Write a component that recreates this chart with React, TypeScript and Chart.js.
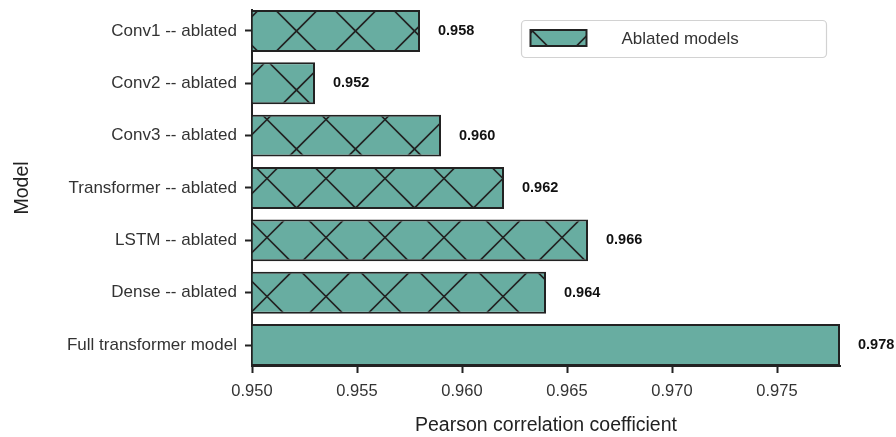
import React, { useEffect, useRef } from "react";
import { Chart, registerables } from "chart.js";

Chart.register(...registerables);

const categories = [
  "Conv1 -- ablated",
  "Conv2 -- ablated",
  "Conv3 -- ablated",
  "Transformer -- ablated",
  "LSTM -- ablated",
  "Dense -- ablated",
  "Full transformer model",
];
const pearsonValues = [0.958, 0.953, 0.959, 0.962, 0.966, 0.964, 0.978];
const valueLabels = ["0.958", "0.952", "0.960", "0.962", "0.966", "0.964", "0.978"];
const hatched = [true, true, true, true, true, true, false];
const xTicks = [0.95, 0.955, 0.96, 0.965, 0.97, 0.975];
const xMin = 0.95;
const xMax = 0.978;
const legendLabel = "Ablated models";
const xTitle = "Pearson correlation coefficient";
const yTitle = "Model";

const FAMILY = "'Liberation Sans', Arial, Helvetica, sans-serif";
const FILL = "#68ada1";
const EDGE = "#222222";

function makeHatch(ctx: CanvasRenderingContext2D): CanvasPattern | string {
  const s = 59;
  const c = document.createElement("canvas");
  c.width = s;
  c.height = s;
  const g = c.getContext("2d");
  if (!g) return FILL;
  g.fillStyle = FILL;
  g.fillRect(0, 0, s, s);
  g.strokeStyle = EDGE;
  g.lineWidth = 1.6;
  const ox = 31;
  const oy = 1.5;
  g.beginPath();
  for (let k = -3; k <= 3; k++) {
    const c1 = oy - ox + k * s;
    g.moveTo(-10, -10 + c1);
    g.lineTo(s + 10, s + 10 + c1);
    const d = oy + ox + k * s;
    g.moveTo(-10, d + 10);
    g.lineTo(s + 10, d - s - 10);
  }
  g.stroke();
  const p = ctx.createPattern(c, "repeat");
  return p || FILL;
}

export default function App() {
  const ref = useRef<HTMLCanvasElement | null>(null);

  useEffect(() => {
    const canvas = ref.current;
    if (!canvas) return;
    const ctx = canvas.getContext("2d");
    if (!ctx) return;
    const hatch = makeHatch(ctx);

    const valueLabelPlugin = {
      id: "valueLabels",
      afterDatasetsDraw(chart: any) {
        const meta = chart.getDatasetMeta(0);
        const c = chart.ctx;
        c.save();
        c.font = `bold 14.5px ${FAMILY}`;
        c.fillStyle = "#111";
        c.textAlign = "left";
        c.textBaseline = "middle";
        meta.data.forEach((el: any, i: number) => {
          c.fillText(valueLabels[i], el.x + 18, el.y);
        });
        c.restore();
      },
    };

    const legendPlugin = {
      id: "boxLegend",
      afterDraw(chart: any) {
        const c = chart.ctx;
        const area = chart.chartArea;
        const bx = area.right - 318.5;
        const by = area.top + 10.5;
        const bw = 305;
        const bh = 37;
        c.save();
        c.beginPath();
        if ((c as any).roundRect) (c as any).roundRect(bx, by, bw, bh, 4);
        else c.rect(bx, by, bw, bh);
        c.fillStyle = "rgba(255,255,255,0.9)";
        c.fill();
        c.strokeStyle = "#d2d2d2";
        c.lineWidth = 1.2;
        c.stroke();
        const px = bx + 9;
        const py = by + 9.5;
        c.fillStyle = hatch as any;
        c.fillRect(px, py, 56, 16);
        c.strokeStyle = EDGE;
        c.lineWidth = 2;
        c.strokeRect(px, py, 56, 16);
        c.font = `17px ${FAMILY}`;
        c.fillStyle = "#333";
        c.textAlign = "left";
        c.textBaseline = "middle";
        c.fillText(legendLabel, bx + 100, by + 18.5);
        c.restore();
      },
    };

    const chart = new Chart(ctx, {
      type: "bar",
      data: {
        datasets: [
          {
            label: legendLabel,
            data: pearsonValues.map((v, i) => ({ x: v, y: i })),
            base: xMin,
            backgroundColor: hatched.map((h) => (h ? hatch : FILL)) as any,
            borderColor: EDGE,
            borderWidth: 2,
            borderSkipped: "start",
            categoryPercentage: 0.8,
            barPercentage: 1.0,
            clip: 4 as any,
          } as any,
        ],
      },
      options: {
        indexAxis: "y",
        animation: false,
        responsive: true,
        maintainAspectRatio: false,
        layout: { padding: { left: 0, top: 10, right: 56, bottom: 0 } },
        plugins: {
          legend: { display: false },
          tooltip: { enabled: false },
        },
        scales: {
          x: {
            type: "linear",
            min: xMin,
            max: xMax,
            z: 1,
            offset: false,
            afterBuildTicks: (s: any) => {
              s.ticks = xTicks.map((v) => ({ value: v }));
            },
            afterFit: (s: any) => {
              s.height = 71;
              s.paddingLeft = 0;
              s.paddingRight = 0;
            },
            ticks: {
              callback: (v: any) => Number(v).toFixed(3),
              font: { size: 16.5, family: FAMILY },
              color: "#333",
              padding: 9,
              maxRotation: 0,
              autoSkip: false,
            },
            grid: {
              display: true,
              offset: false,
              drawOnChartArea: false,
              drawTicks: true,
              tickLength: 7,
              tickWidth: 2,
              tickColor: EDGE,
            },
            border: { display: true, width: 2, color: EDGE },
            title: {
              display: true,
              text: xTitle,
              font: { size: 19.5, family: FAMILY },
              color: "#222",
              padding: { top: 0, bottom: 0 },
            },
          },
          y: {
            type: "linear",
            reverse: true,
            offset: false,
            min: -0.4,
            max: categories.length - 0.6,
            z: 1,
            afterBuildTicks: (s: any) => {
              s.ticks = categories.map((_, i) => ({ value: i }));
            },
            afterFit: (s: any) => {
              s.width = 252;
              s.paddingTop = 0;
              s.paddingBottom = 0;
            },
            ticks: {
              callback: (v: any) => categories[Number(v)] ?? "",
              font: { size: 17, family: FAMILY },
              color: "#333",
              padding: 8,
              autoSkip: false,
            },
            grid: {
              display: true,
              offset: false,
              drawOnChartArea: false,
              drawTicks: true,
              tickLength: 7,
              tickWidth: 2,
              tickColor: EDGE,
            },
            border: { display: true, width: 2, color: EDGE },
            title: {
              display: true,
              text: yTitle,
              font: { size: 19.5, family: FAMILY },
              color: "#222",
              padding: { top: 11, bottom: 0 },
            },
          },
        },
      } as any,
      plugins: [valueLabelPlugin, legendPlugin],
    });

    return () => {
      chart.destroy();
    };
  }, []);

  return (
    <div
      style={{
        position: "fixed",
        left: 0,
        top: 0,
        width: 896,
        height: 437,
        background: "#fff",
      }}
    >
      <canvas ref={ref} />
    </div>
  );
}
